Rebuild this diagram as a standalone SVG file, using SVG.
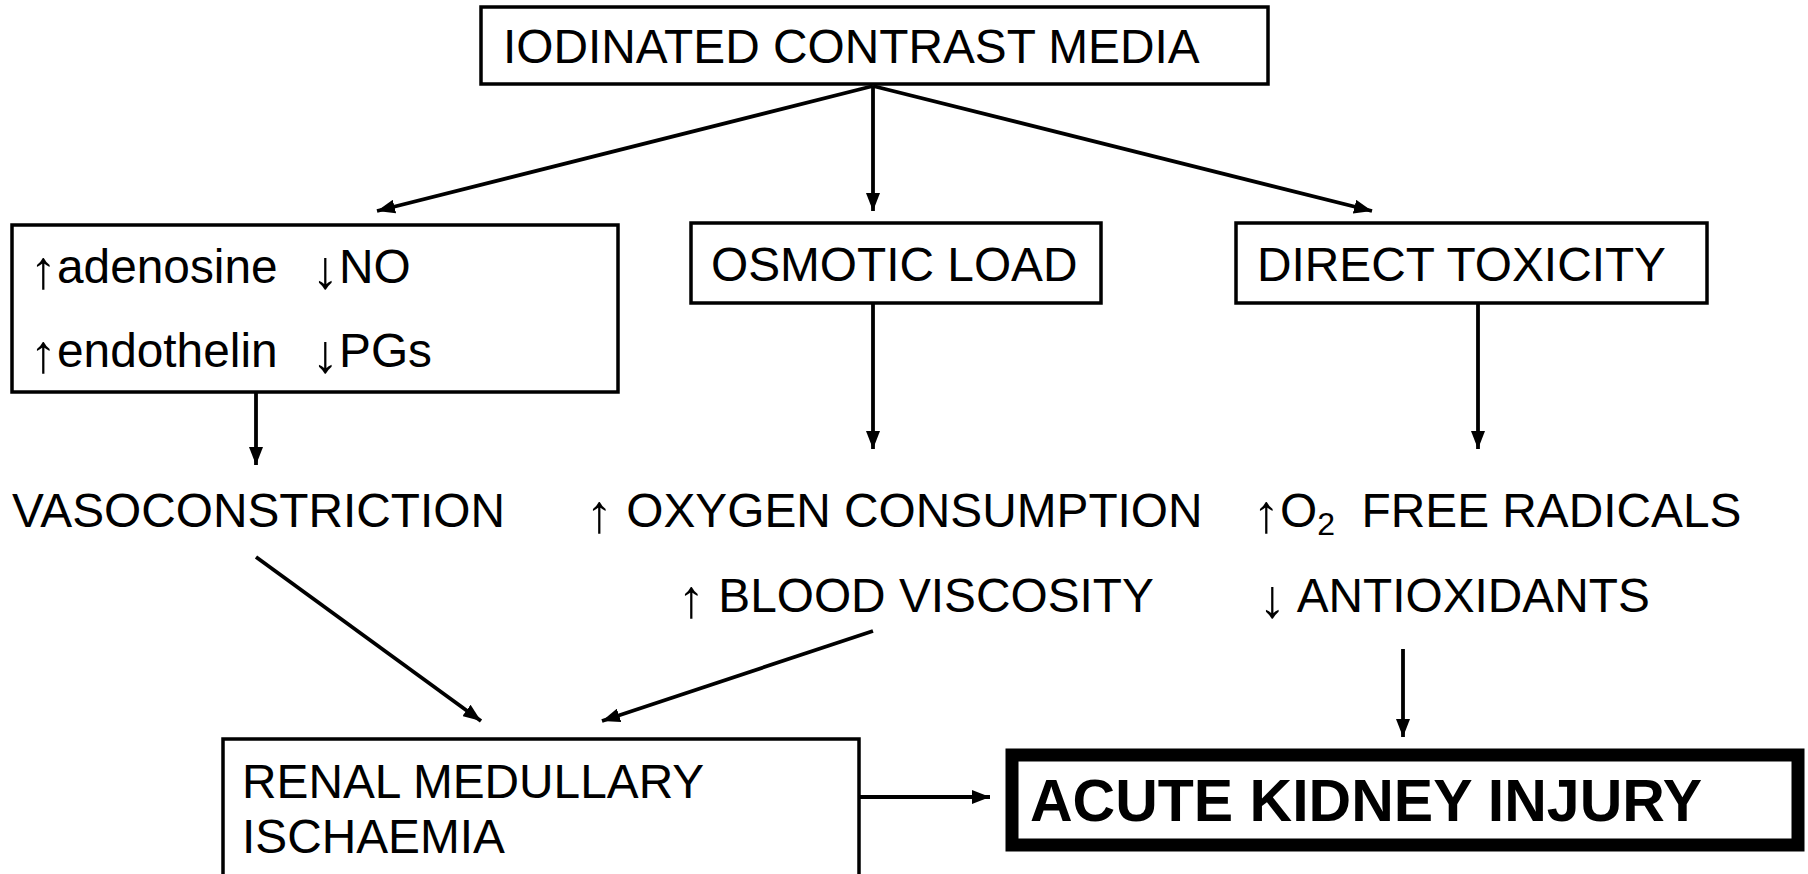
<svg xmlns="http://www.w3.org/2000/svg" width="1808" height="874" viewBox="0 0 1808 874">
<style>
text{font-family:"Liberation Sans",Arial,sans-serif;font-size:47.8px;fill:#000}
.ar{font-size:54px}
.box{fill:#fff;stroke:#000;stroke-width:3.5}
.c{stroke:#000;stroke-width:3.8;fill:none;marker-end:url(#ah)}
.aki{font-weight:bold;font-size:59px}
</style>
<defs>
<marker id="ah" markerUnits="userSpaceOnUse" markerWidth="20" markerHeight="14" refX="18" refY="7" orient="auto">
<path d="M0,0 L18,7 L0,14 Z" fill="#000"/>
</marker>
</defs>
<g id="connectors">
<line class="c" x1="873" y1="86" x2="377" y2="211"/>
<line class="c" x1="873" y1="86" x2="873" y2="211"/>
<line class="c" x1="873" y1="86" x2="1372" y2="211"/>
<line class="c" x1="256" y1="392" x2="256" y2="465"/>
<line class="c" x1="873" y1="303" x2="873" y2="449"/>
<line class="c" x1="1478" y1="303" x2="1478" y2="449"/>
<line class="c" x1="256" y1="557" x2="481" y2="721"/>
<line class="c" x1="873" y1="631" x2="602" y2="721"/>
<line class="c" x1="1403" y1="649" x2="1403" y2="737"/>
<line class="c" x1="859" y1="797" x2="990" y2="797"/>
</g>
<g id="contrast">
<rect class="box" x="481" y="7" width="787" height="77"/>
<text x="503" y="63">IODINATED CONTRAST MEDIA</text>
</g>
<g id="mediators">
<rect class="box" x="12" y="225" width="606" height="167"/>
<text x="30" y="283"><tspan class="ar" dy="5">↑</tspan><tspan dy="-5">adenosine</tspan></text>
<text x="312" y="283"><tspan class="ar" dy="5">↓</tspan><tspan dy="-5">NO</tspan></text>
<text x="30" y="367"><tspan class="ar" dy="5">↑</tspan><tspan dy="-5">endothelin</tspan></text>
<text x="312" y="367"><tspan class="ar" dy="5">↓</tspan><tspan dy="-5">PGs</tspan></text>
</g>
<g id="osmotic">
<rect class="box" x="691" y="223" width="410" height="80"/>
<text x="711" y="281">OSMOTIC LOAD</text>
</g>
<g id="toxicity">
<rect class="box" x="1236" y="223" width="471" height="80"/>
<text x="1257" y="281">DIRECT TOXICITY</text>
</g>
<g id="vasoconstriction">
<text x="12" y="527">VASOCONSTRICTION</text>
</g>
<g id="oxygen">
<text x="586" y="527" xml:space="preserve"><tspan class="ar" dy="5">↑</tspan><tspan dy="-5"> OXYGEN CONSUMPTION</tspan></text>
<text x="678" y="612" xml:space="preserve"><tspan class="ar" dy="5">↑</tspan><tspan dy="-5"> BLOOD VISCOSITY</tspan></text>
</g>
<g id="radicals">
<text x="1253" y="527" xml:space="preserve"><tspan class="ar" dy="5">↑</tspan><tspan dy="-5">O</tspan><tspan font-size="32" dy="8">2</tspan><tspan dy="-8">  FREE RADICALS</tspan></text>
<text x="1259" y="612" xml:space="preserve"><tspan class="ar" dy="5">↓</tspan><tspan dy="-5"> ANTIOXIDANTS</tspan></text>
</g>
<g id="ischaemia">
<rect class="box" x="223" y="739" width="636" height="150"/>
<text x="242" y="798">RENAL MEDULLARY</text>
<text x="242" y="853">ISCHAEMIA</text>
</g>
<g id="aki">
<rect x="1012" y="755" width="786" height="90" fill="#fff" stroke="#000" stroke-width="13"/>
<text class="aki" x="1030" y="821">ACUTE KIDNEY INJURY</text>
</g>
</svg>
